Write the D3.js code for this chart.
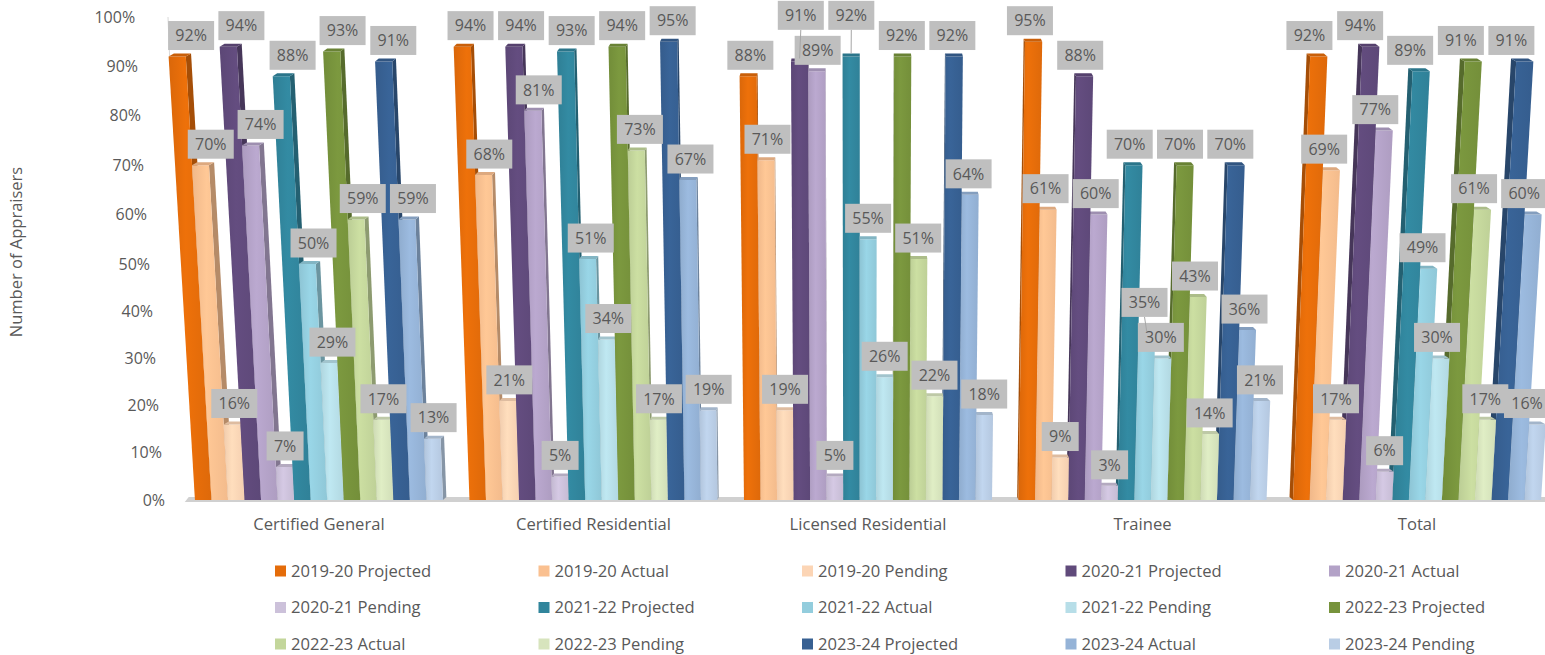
<!DOCTYPE html>
<meta charset="utf-8">
<script src="https://d3js.org/d3.v7.min.js"></script>
<style>
  body { margin: 0; background: #fff; }
  text { font-family: "Open Sans", "Noto Sans", sans-serif; fill: #595959; }
</style>
<div id="chart"></div>
<script>

// Datos
var categories = ["Certified General", "Certified Residential", "Licensed Residential", "Trainee", "Total"];

var seriesNames = [
  "2019-20 Projected", "2019-20 Actual", "2019-20 Pending",
  "2020-21 Projected", "2020-21 Actual", "2020-21 Pending",
  "2021-22 Projected", "2021-22 Actual", "2021-22 Pending",
  "2022-23 Projected", "2022-23 Actual", "2022-23 Pending",
  "2023-24 Projected", "2023-24 Actual", "2023-24 Pending"
];

var seriesColors = [
  "#E46C0A", "#FAC090", "#FCD5B5",
  "#604A7B", "#B3A2C7", "#CCC1DA",
  "#31859C", "#93CDDD", "#B7DEE8",
  "#77933C", "#C3D69B", "#D7E4BD",
  "#376092", "#95B3D7", "#B9CDE5"
];

// one array per category, in series order
var certifiedGeneral     = [0.92, 0.70, 0.16, 0.94, 0.74, 0.07, 0.88, 0.50, 0.29, 0.93, 0.59, 0.17, 0.91, 0.59, 0.13];
var certifiedResidential = [0.94, 0.68, 0.21, 0.94, 0.81, 0.05, 0.93, 0.51, 0.34, 0.94, 0.73, 0.17, 0.95, 0.67, 0.19];
var licensedResidential  = [0.88, 0.71, 0.19, 0.91, 0.89, 0.05, 0.92, 0.55, 0.26, 0.92, 0.51, 0.22, 0.92, 0.64, 0.18];
var trainee              = [0.95, 0.61, 0.09, 0.88, 0.60, 0.03, 0.70, 0.35, 0.30, 0.70, 0.43, 0.14, 0.70, 0.36, 0.21];
var total                = [0.92, 0.69, 0.17, 0.94, 0.77, 0.06, 0.89, 0.49, 0.30, 0.91, 0.61, 0.17, 0.91, 0.60, 0.16];

var values = [certifiedGeneral, certifiedResidential, licensedResidential, trainee, total];

var yTicks = [0, 0.1, 0.2, 0.3, 0.4, 0.5, 0.6, 0.7, 0.8, 0.9, 1];

// Dimensiones
var width = 1545, height = 655;

var svg = d3.select("#chart")
  .append("svg")
    .attr("width", width)
    .attr("height", height);

var defs = svg.append("defs");

// Escalas
var x0 = d3.scaleBand()
  .domain(categories)
  .range([181.75, 1554.25])
  .paddingInner(0.0965)
  .paddingOuter(0.048);

var x1 = d3.scaleBand()
  .domain(seriesNames)
  .range([0, x0.bandwidth()]);

// slight perspective: the chart is drawn as an Excel 3D column chart
var y = d3.scaleLinear()
  .domain([0, 0.5, 1])
  .range([500, 264, 17]);

var color = d3.scaleOrdinal().domain(seriesNames).range(seriesColors);

var cx = 860;                       // centre of the perspective
function px(xx, v) { return cx + (xx - cx) * (1 + 0.043 * v); }
function lx(xx, v) { return cx + (xx - cx) * (1 + 0.02 * v); }

// gradients per series
seriesNames.forEach(function(s, i) {
  var c = d3.color(seriesColors[i]);
  var g = defs.append("linearGradient")
    .attr("id", "grad" + i)
    .attr("x1", "0%").attr("x2", "100%").attr("y1", "0%").attr("y2", "0%");
  g.append("stop").attr("offset", "0%").attr("stop-color", c.darker(0.12));
  g.append("stop").attr("offset", "40%").attr("stop-color", c.brighter(0.12));
  g.append("stop").attr("offset", "100%").attr("stop-color", c.darker(0.08));
});

// Eje Y: tick labels on the back wall
svg.append("g").selectAll("text")
  .data(yTicks)
  .enter().append("text")
    .attr("x", function(d) { return px(165, d); })
    .attr("y", function(d) { return y(d); })
    .attr("dy", "0.35em")
    .attr("text-anchor", "end")
    .style("font-size", "16px")
    .text(d3.format(".0%"));

// top bit of the wall edge (rest is behind the bars)
svg.append("line")
  .attr("x1", 170).attr("y1", y(0.9))
  .attr("x2", 168).attr("y2", y(1))
  .attr("stroke", "#d9d9d9")
  .attr("stroke-width", 1);

// floor
var floorL = x0.range()[0] + 3;
svg.append("path")
  .attr("d", "M" + (floorL + 4) + "," + (y(0) - 3) + "L1560," + (y(0) - 3) +
             "L1560," + (y(0) + 2) + "L" + floorL + "," + (y(0) + 2) + "Z")
  .attr("fill", "#d0d0d0");

// Título del eje
svg.append("text")
  .attr("transform", "translate(22,252) rotate(-90)")
  .attr("text-anchor", "middle")
  .style("font-size", "16.5px")
  .text("Number of Appraisers");

// Barras
var bars = [];
categories.forEach(function(c, ci) {
  seriesNames.forEach(function(s, si) {
    var xl = x0(c) + x1(s), xr = xl + x1.bandwidth();
    bars.push({cat: c, ci: ci, s: s, si: si, v: values[ci][si], xl: xl, xr: xr, xc: (xl + xr) / 2});
  });
});

var order = bars.slice().sort(function(a, b) {
  return Math.abs(b.xc - cx) - Math.abs(a.xc - cx);
});

var line = d3.line();
var gBars = svg.append("g");

order.forEach(function(d) {
  var yb = y(0), yt = y(d.v);
  var dx = (cx - d.xc) * 0.008, dy = -3;
  var base = d3.color(color(d.s));
  var edge = d.xc < cx ? d.xr : d.xl;

  // side face
  gBars.append("path")
    .attr("d", line([[px(edge, 0), yb], [px(edge, d.v), yt], [px(edge, d.v) + dx, yt + dy], [px(edge, 0) + dx, yb + dy]]) + "Z")
    .attr("fill", base.darker(0.9));

  // front face
  gBars.append("path")
    .attr("d", line([[px(d.xl, 0), yb], [px(d.xr, 0), yb], [px(d.xr, d.v), yt], [px(d.xl, d.v), yt]]) + "Z")
    .attr("fill", "url(#grad" + d.si + ")");

  // top cap
  gBars.append("path")
    .attr("d", line([[px(d.xl, d.v), yt], [px(d.xr, d.v), yt], [px(d.xr, d.v) + dx, yt + dy], [px(d.xl, d.v) + dx, yt + dy]]) + "Z")
    .attr("fill", base.darker(0.35));
});

// Etiquetas de datos (simple collision handling per category)
var fmt = d3.format(".0%");
var boxH = 29;
var placed = [];
categories.forEach(function(c, ci) {
  var items = bars.filter(function(b) { return b.ci === ci; })
    .sort(function(a, b) { return a.v - b.v || a.si - b.si; });
  var local = [];
  items.forEach(function(d) {
    var txt = fmt(d.v);
    var w = txt.length === 2 ? 37 : 46;
    var cxl = lx(d.xc, d.v);
    var box = {x: cxl - w / 2, w: w, y: y(d.v) - 21 - boxH / 2, txt: txt, d: d, moved: false};
    var again = true, guard = 0;
    while (again && guard < 20) {
      again = false; guard++;
      local.forEach(function(o) {
        if (box.x < o.x + o.w && box.x + box.w > o.x && box.y < o.y + boxH && box.y + boxH > o.y) {
          box.y = o.y - boxH - 6;
          box.moved = true;
          again = true;
        }
      });
      if (box.y < 0) { box.y = 0; again = false; }
    }
    local.push(box);
    placed.push(box);
  });
});

// keep the text itself inside the picture (box may run off the edge)
placed.forEach(function(b) {
  var half = b.txt.length === 2 ? 12 : 17;
  b.x = Math.min(b.x, width - 1 - half - b.w / 2);
});

var gLab = svg.append("g");
placed.forEach(function(b) {
  if (b.moved) {
    gLab.append("line")
      .attr("x1", b.x + b.w / 2).attr("y1", b.y + boxH)
      .attr("x2", px(b.d.xc, b.d.v)).attr("y2", y(b.d.v) - 3)
      .attr("stroke", "#a6a6a6");
  }
  gLab.append("rect")
    .attr("x", b.x).attr("y", b.y)
    .attr("width", b.w).attr("height", boxH)
    .attr("fill", "#bfbfbf");
  gLab.append("text")
    .attr("x", b.x + b.w / 2).attr("y", b.y + boxH / 2)
    .attr("dy", "0.36em")
    .attr("text-anchor", "middle")
    .style("font-size", "16px")
    .text(b.txt);
});

// Eje X: category labels
svg.append("g").selectAll("text")
  .data(categories)
  .enter().append("text")
    .attr("x", function(d) { return x0(d) + x0.bandwidth() / 2; })
    .attr("y", 524)
    .attr("dy", "0.35em")
    .attr("text-anchor", "middle")
    .style("font-size", "16.6px")
    .text(function(d) { return d; });

// Leyenda
var legend = svg.append("g").selectAll("g")
  .data(seriesNames)
  .enter().append("g")
    .attr("transform", function(d, i) {
      return "translate(" + (275 + (i % 5) * 263.5) + "," + (571 + Math.floor(i / 5) * 36.5) + ")";
    });

legend.append("rect")
  .attr("x", 0).attr("y", -5.5)
  .attr("width", 11).attr("height", 11)
  .attr("fill", function(d) { return color(d); });

legend.append("text")
  .attr("x", 16).attr("y", 0)
  .attr("dy", "0.35em")
  .style("font-size", "16.6px")
  .text(function(d) { return d; });

</script>
